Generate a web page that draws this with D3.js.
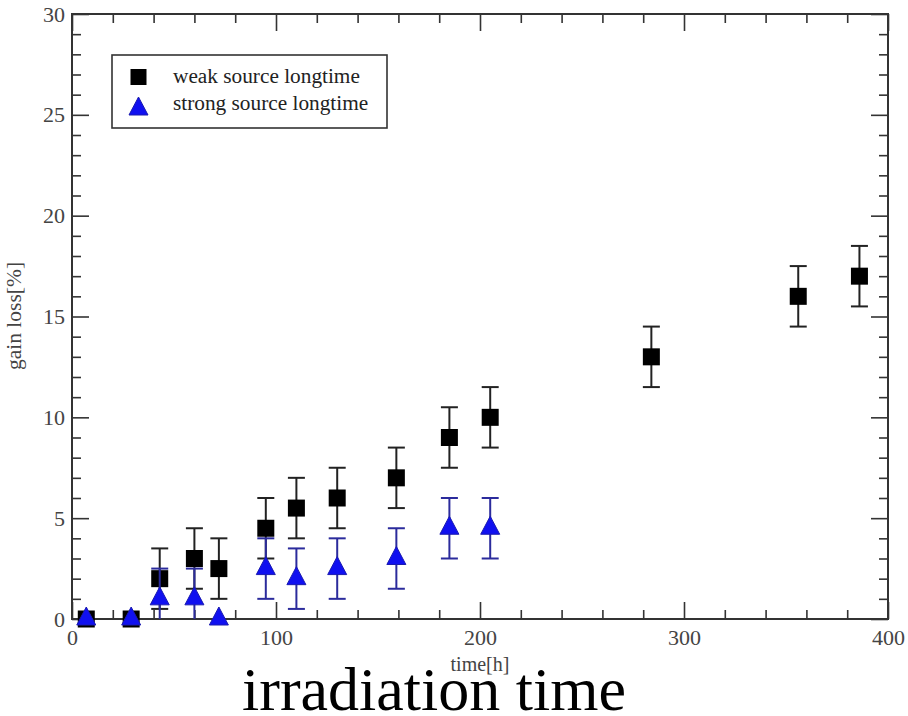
<!DOCTYPE html>
<html>
<head>
<meta charset="utf-8">
<script src="https://cdn.jsdelivr.net/npm/d3@7"></script>
<style>
  body { margin: 0; background: #fff; }
  svg { display: block; font-family: "Liberation Serif", "Times New Roman", serif; }
</style>
</head>
<body>
<div id="chart"></div>
<script>
// Data
const weakTimes  = [7, 29, 43, 60, 72, 95, 110, 130, 159, 185, 205, 284, 356, 386];
const weakLoss   = [0, 0, 2, 3, 2.5, 4.5, 5.5, 6, 7, 9, 10, 13, 16, 17];
const weakErr    = [0, 0, 1.5, 1.5, 1.5, 1.5, 1.5, 1.5, 1.5, 1.5, 1.5, 1.5, 1.5, 1.5];

const strongTimes = [7, 29, 43, 60, 72, 95, 110, 130, 159, 185, 205];
const strongLoss  = [0, 0, 1, 1, 0, 2.5, 2, 2.5, 3, 4.5, 4.5];
const strongErr   = [0, 0, 1.5, 1.5, 0, 1.5, 1.5, 1.5, 1.5, 1.5, 1.5];

const xMajor = [0, 100, 200, 300, 400];
const yMajor = [0, 5, 10, 15, 20, 25, 30];
const legendLabels = ["weak source longtime", "strong source longtime"];

const W = 908, H = 716;
const margin = {top: 14, right: 20, bottom: 97, left: 72};
const width = W - margin.left - margin.right;
const height = H - margin.top - margin.bottom;

const svg = d3.select("#chart").append("svg")
  .attr("width", W)
  .attr("height", H);

const g = svg.append("g")
  .attr("transform", `translate(${margin.left},${margin.top})`);

const x = d3.scaleLinear().domain([0, 400]).range([0, width]);
const y = d3.scaleLinear().domain([0, 30]).range([height, 0]);

const xMinor = d3.range(0, 401, 20).filter(v => v % 100 !== 0);
const yMinor = d3.range(0, 31, 1).filter(v => v % 5 !== 0);

// Axes: major + minor ticks pointing inward on all four sides
function styleAxis(sel) {
  sel.select(".domain").remove();
  sel.selectAll(".tick line").attr("stroke", "#333").attr("stroke-width", 1.6);
}

g.append("g").attr("transform", `translate(0,${height})`)
  .call(d3.axisBottom(x).tickValues(xMinor).tickSize(-9).tickFormat(""))
  .call(styleAxis);
g.append("g").attr("transform", `translate(0,${height})`)
  .call(d3.axisBottom(x).tickValues(xMajor).tickSize(-17).tickPadding(22).tickFormat(d3.format("d")))
  .call(styleAxis)
  .call(s => s.selectAll("text").attr("font-size", 22).attr("fill", "#444")
    .attr("font-family", "Liberation Serif, serif").attr("dy", "0.2em"));

g.append("g")
  .call(d3.axisTop(x).tickValues(xMinor).tickSize(-9).tickFormat(""))
  .call(styleAxis);
g.append("g")
  .call(d3.axisTop(x).tickValues(xMajor).tickSize(-17).tickFormat(""))
  .call(styleAxis);

g.append("g")
  .call(d3.axisLeft(y).tickValues(yMinor).tickSize(-9).tickFormat(""))
  .call(styleAxis);
g.append("g")
  .call(d3.axisLeft(y).tickValues(yMajor).tickSize(-17).tickPadding(7).tickFormat(d3.format("d")))
  .call(styleAxis)
  .call(s => s.selectAll("text").attr("font-size", 22).attr("fill", "#444")
    .attr("font-family", "Liberation Serif, serif"));

g.append("g").attr("transform", `translate(${width},0)`)
  .call(d3.axisRight(y).tickValues(yMinor).tickSize(-9).tickFormat(""))
  .call(styleAxis);
g.append("g").attr("transform", `translate(${width},0)`)
  .call(d3.axisRight(y).tickValues(yMajor).tickSize(-17).tickFormat(""))
  .call(styleAxis);

// Frame
g.append("rect")
  .attr("width", width)
  .attr("height", height)
  .attr("fill", "none")
  .attr("stroke", "#333")
  .attr("stroke-width", 2);

// Clip for error bars
g.append("clipPath").attr("id", "plotClip")
  .append("rect").attr("width", width).attr("height", height);

const capHalf = 8.5;
const triPath = "M0,-12L9.5,6L-9.5,6Z";

function drawSeries(times, loss, err, barColor, draw) {
  const pts = times.map((t, i) => ({t, v: loss[i], e: err[i]}));
  const bars = g.append("g").attr("clip-path", "url(#plotClip)")
    .selectAll("g").data(pts.filter(d => d.e > 0)).enter().append("g")
    .attr("stroke", barColor).attr("stroke-width", 2);
  bars.append("line")
    .attr("x1", d => x(d.t)).attr("x2", d => x(d.t))
    .attr("y1", d => y(d.v - d.e)).attr("y2", d => y(d.v + d.e));
  bars.append("line")
    .attr("x1", d => x(d.t) - capHalf).attr("x2", d => x(d.t) + capHalf)
    .attr("y1", d => y(d.v + d.e)).attr("y2", d => y(d.v + d.e));
  bars.append("line")
    .attr("x1", d => x(d.t) - capHalf).attr("x2", d => x(d.t) + capHalf)
    .attr("y1", d => y(d.v - d.e)).attr("y2", d => y(d.v - d.e));
  draw(g.append("g").selectAll("path").data(pts).enter());
}

drawSeries(weakTimes, weakLoss, weakErr, "#222", sel =>
  sel.append("rect")
    .attr("x", d => x(d.t) - 8.5).attr("y", d => y(d.v) - 8.5)
    .attr("width", 17).attr("height", 17)
    .attr("fill", "#000"));

drawSeries(strongTimes, strongLoss, strongErr, "#2b2b9c", sel =>
  sel.append("path")
    .attr("d", triPath)
    .attr("transform", d => `translate(${x(d.t)},${y(d.v)})`)
    .attr("fill", "#1010f0")
    .attr("stroke", "#1a1ab0")
    .attr("stroke-width", 1));

// Legend
const legend = svg.append("g").attr("transform", "translate(112,55)");
legend.append("rect")
  .attr("width", 275).attr("height", 73)
  .attr("fill", "#fff").attr("stroke", "#333").attr("stroke-width", 1.6);
legend.append("rect")
  .attr("x", 18.5).attr("y", 14).attr("width", 16).attr("height", 16)
  .attr("fill", "#000");
legend.append("path")
  .attr("d", triPath)
  .attr("transform", "translate(26.5,54)")
  .attr("fill", "#1010f0").attr("stroke", "#1a1ab0");
legend.selectAll(".lbl").data(legendLabels).enter().append("text")
  .attr("class", "lbl")
  .attr("x", 61)
  .attr("y", (d, i) => 28 + i * 27)
  .attr("font-size", 21.3)
  .attr("fill", "#222")
  .text(d => d);

// Axis titles
svg.append("text")
  .attr("transform", "translate(21,316) rotate(-90)")
  .attr("text-anchor", "middle")
  .attr("font-size", 21.5)
  .attr("fill", "#444")
  .text("gain loss[%]");

svg.append("text")
  .attr("x", 480).attr("y", 671)
  .attr("text-anchor", "middle")
  .attr("font-size", 20)
  .attr("fill", "#444")
  .text("time[h]");

svg.append("text")
  .attr("x", 434).attr("y", 710)
  .attr("text-anchor", "middle")
  .attr("font-size", 62)
  .attr("fill", "#000")
  .text("irradiation time");
</script>
</body>
</html>
